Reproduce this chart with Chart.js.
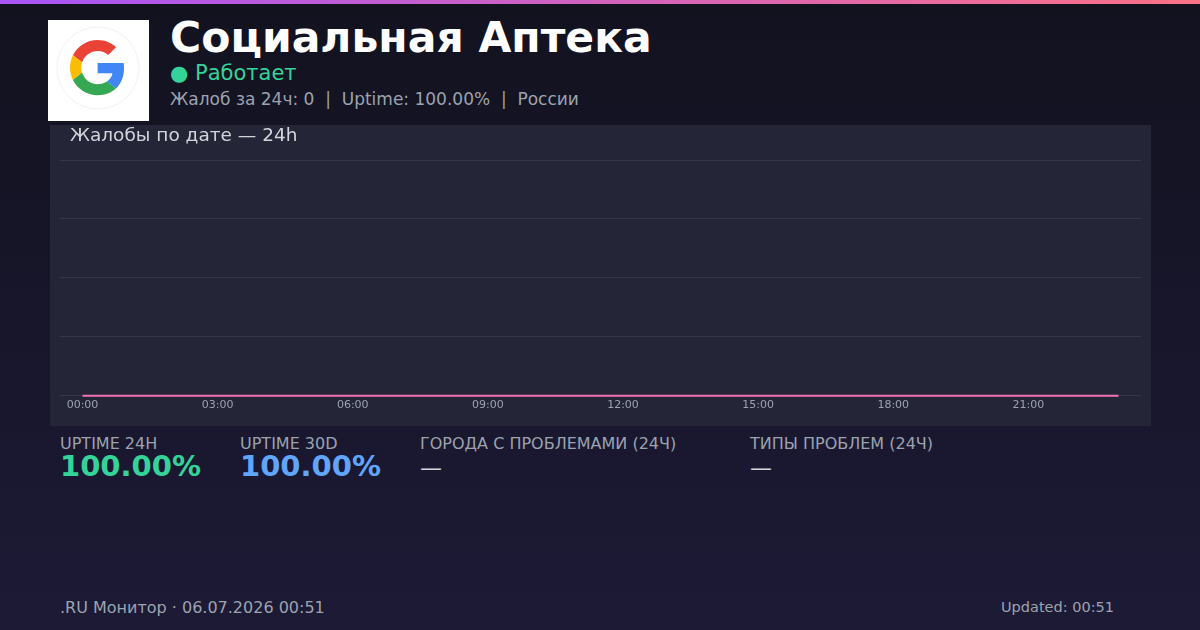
<!DOCTYPE html>
<html lang="ru">
<head>
<meta charset="utf-8">
<script src="https://cdn.jsdelivr.net/npm/chart.js@4/dist/chart.umd.min.js"></script>
<style>
  html, body { margin: 0; padding: 0; }
  body {
    width: 1200px; height: 630px; overflow: hidden; position: relative;
    background: linear-gradient(180deg, #12121f 0%, #1d1a36 100%);
    font-family: "DejaVu Sans", sans-serif;
  }
  .topbar { position: absolute; left: 0; top: 0; width: 1200px; height: 4px;
    background: linear-gradient(90deg, #a855f7, #fb7185); }
  .logo { position: absolute; left: 48px; top: 20px; width: 101px; height: 101px; background: #fff; }
  .abs { position: absolute; white-space: nowrap; }
  h1 { margin: 0; left: 170px; top: 13px; font-size: 42.5px; font-weight: bold; color: #fff; }
  .status { left: 170px; top: 61px; font-size: 21px; color: #34d399; }
  .meta { left: 170px; top: 89px; font-size: 17px; color: #9ca3af; }
  .card { position: absolute; left: 50px; top: 125px; width: 1101px; height: 301px; background: #252538; }
  .ctitle { left: 70px; top: 124px; font-size: 18.5px; color: #d1d5db; }
  .lbl { top: 434px; font-size: 16px; color: #9ca3af; }
  .val { top: 449px; font-size: 29px; font-weight: bold; }
  .dash { top: 455px; font-size: 22px; color: #d1d5db; }
  .foot { top: 598px; color: #9ca3af; }
</style>
</head>
<body>
<div class="topbar"></div>
<div class="logo">
  <svg width="101" height="101" viewBox="0 0 101 101">
    <circle cx="50" cy="48" r="41" fill="#fff" stroke="#f2f2f2" stroke-width="1"/>
    <g transform="translate(22,20) scale(1.15)">
      <path fill="#EA4335" d="M24 9.5c3.54 0 6.71 1.22 9.21 3.6l6.85-6.85C35.9 2.38 30.47 0 24 0 14.62 0 6.51 5.38 2.56 13.220l7.98 6.19C12.43 13.72 17.74 9.5 24 9.5z"/>
      <path fill="#4285F4" d="M46.98 24.55c0-1.570-.15-3.090-.38-4.550H24v9.020h12.940c-.58 2.960-2.260 5.480-4.780 7.180l7.730 6c4.510-4.180 7.090-10.360 7.090-17.650z"/>
      <path fill="#FBBC05" d="M10.53 28.59c-.48-1.450-.76-2.990-.76-4.590s.27-3.140.76-4.590l-7.980-6.190C.92 16.460 0 20.120 0 24c0 3.880.92 7.540 2.560 10.780l7.970-6.190z"/>
      <path fill="#34A853" d="M24 48c6.480 0 11.930-2.130 15.890-5.810l-7.730-6c-2.150 1.450-4.920 2.300-8.160 2.300-6.260 0-11.570-4.220-13.470-9.910l-7.980 6.190C6.510 42.620 14.620 48 24 48z"/>
    </g>
  </svg>
</div>
<h1 class="abs">Социальная Аптека</h1>
<div class="abs status">● Работает</div>
<div class="abs meta">Жалоб за 24ч: 0&nbsp; |&nbsp; Uptime: 100.00%&nbsp; |&nbsp; России</div>

<div class="card"><canvas id="chart"></canvas></div>
<div class="abs ctitle">Жалобы по дате — 24h</div>

<div class="abs lbl" style="left:60px">UPTIME 24H</div>
<div class="abs val" style="left:60px;color:#34d399">100.00%</div>
<div class="abs lbl" style="left:240px">UPTIME 30D</div>
<div class="abs val" style="left:240px;color:#60a5fa">100.00%</div>
<div class="abs lbl" style="left:420px">ГОРОДА С ПРОБЛЕМАМИ (24Ч)</div>
<div class="abs dash" style="left:420px">—</div>
<div class="abs lbl" style="left:750px">ТИПЫ ПРОБЛЕМ (24Ч)</div>
<div class="abs dash" style="left:750px">—</div>

<div class="abs foot" style="left:60px;font-size:16px">.RU Монитор · 06.07.2026 00:51</div>
<div class="abs foot" style="right:86px;font-size:14.5px;top:599px">Updated: 00:51</div>

<script>
// hourly complaint counts for the last 24h
const hours = ['00:00','01:00','02:00','03:00','04:00','05:00','06:00','07:00',
  '08:00','09:00','10:00','11:00','12:00','13:00','14:00','15:00',
  '16:00','17:00','18:00','19:00','20:00','21:00','22:00','23:00'];
const complaints = [0,0,0,0,0,0,0,0,0,0,0,0,0,0,0,0,0,0,0,0,0,0,0,0];
const yMax = 4;

const ctx = document.getElementById('chart').getContext('2d');
new Chart(ctx, {
  type: 'line',
  data: {
    labels: hours,
    datasets: [{
      data: complaints,
      borderColor: '#f472b6',
      borderWidth: 2,
      pointRadius: 0,
      tension: 0,
      fill: false,
      clip: false
    }]
  },
  options: {
    responsive: true,
    maintainAspectRatio: false,
    animation: false,
    layout: { padding: { top: 35, left: 10, right: 10, bottom: 11 } },
    plugins: { legend: { display: false }, tooltip: { enabled: false } },
    scales: {
      x: {
        offset: true,
        grid: { display: false, drawTicks: false },
        border: { display: false },
        ticks: {
          autoSkip: false,
          maxRotation: 0,
          padding: 3,
          color: '#9ca3af',
          font: { family: 'DejaVu Sans', size: 11 },
          callback: (v, i) => (i % 3 === 0 ? hours[i] : '')
        }
      },
      y: {
        min: 0,
        max: yMax,
        grid: { color: 'rgba(255,255,255,0.08)', drawTicks: false },
        border: { display: false },
        ticks: { display: false, stepSize: 1 }
      }
    }
  }
});
</script>
</body>
</html>
